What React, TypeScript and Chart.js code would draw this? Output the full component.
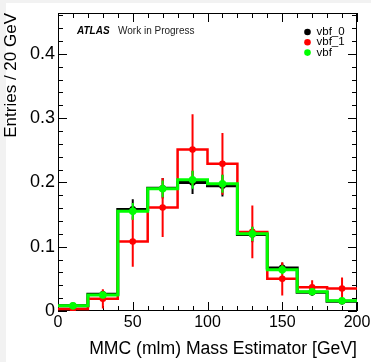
import React, { useEffect, useRef } from 'react';
import { Chart, registerables } from 'chart.js';

Chart.register(...registerables);

// ---- data ----
const binEdges = [0, 20, 40, 60, 80, 100, 120, 140, 160, 180, 200];
const binCenters = [10, 30, 50, 70, 90, 110, 130, 150, 170, 190];

const vbf0 = [0.008, 0.026, 0.158, 0.191, 0.200, 0.195, 0.119, 0.067, 0.029, 0.015];
const vbf0Err = [0.003, 0.006, 0.016, 0.016, 0.018, 0.017, 0.012, 0.008, 0.005, 0.004];

const vbf1 = [0.003, 0.019, 0.108, 0.161, 0.251, 0.229, 0.123, 0.050, 0.037, 0.035];
const vbf1Err = [0.003, 0.015, 0.039, 0.046, 0.055, 0.048, 0.041, 0.026, 0.011, 0.017];

const vbf = [0.008, 0.025, 0.155, 0.190, 0.204, 0.198, 0.120, 0.064, 0.030, 0.016];
const vbfErr = [0.002, 0.005, 0.013, 0.013, 0.014, 0.014, 0.011, 0.007, 0.004, 0.003];

const seriesNames = ['vbf_0', 'vbf_1', 'vbf'];
const seriesColors = ['#000000', '#ff0000', '#00ff00'];

const xTicks = [0, 50, 100, 150, 200];
const yTicks = [0, 0.1, 0.2, 0.3, 0.4];
const xMin = 0;
const xMax = 200;
const yMin = 0;
const yMax = 0.4635;
const xMinorStep = 10;
const yMinorStep = 0.02;

const xTitle = 'MMC (mlm) Mass Estimator [GeV]';
const yTitle = 'Entries / 20 GeV';
const atlasLabel = 'ATLAS';
const atlasSub = 'Work in Progress';

const FONT = "'Liberation Sans', Arial, Helvetica, sans-serif";

function histPoints(vals: number[]) {
  const pts = vals.map((v, i) => ({ x: binEdges[i], y: v }));
  pts.push({ x: binEdges[binEdges.length - 1], y: vals[vals.length - 1] });
  return pts;
}
function markerPoints(vals: number[]) {
  return vals.map((v, i) => ({ x: binCenters[i], y: v }));
}

const backgroundPlugin = {
  id: 'bgStrip',
  beforeDraw(chart: any) {
    const { ctx, width, height } = chart;
    ctx.save();
    ctx.fillStyle = '#f2f2f2';
    ctx.fillRect(0, 0, width, height);
    ctx.fillStyle = '#ffffff';
    ctx.fillRect(6, 3, width - 6, height - 3);
    ctx.restore();
  },
};

const frameTicksPlugin = {
  id: 'frameTicks',
  beforeDatasetsDraw(chart: any) {
    const { ctx, chartArea: a, scales } = chart;
    const x = scales.x;
    const y = scales.y;
    ctx.save();
    ctx.strokeStyle = '#000';
    ctx.lineWidth = 1;
    ctx.beginPath();
    const nx = Math.round((xMax - xMin) / xMinorStep);
    for (let i = 0; i <= nx; i++) {
      const v = xMin + i * xMinorStep;
      const major = xTicks.some((t) => Math.abs(t - v) < 1e-6);
      const len = major ? 9 : 5;
      const px = Math.round(x.getPixelForValue(v)) + 0.5;
      ctx.moveTo(px, a.bottom);
      ctx.lineTo(px, a.bottom - len);
      ctx.moveTo(px, a.top);
      ctx.lineTo(px, a.top + len);
    }
    const ny = Math.floor((yMax - yMin) / yMinorStep + 1e-6);
    for (let i = 0; i <= ny; i++) {
      const v = yMin + i * yMinorStep;
      const major = yTicks.some((t) => Math.abs(t - v) < 1e-6);
      const len = major ? 9 : 5;
      const py = Math.round(y.getPixelForValue(v)) + 0.5;
      ctx.moveTo(a.left, py);
      ctx.lineTo(a.left + len, py);
      ctx.moveTo(a.right, py);
      ctx.lineTo(a.right - len, py);
    }
    ctx.stroke();
    ctx.strokeRect(a.left + 0.5, a.top + 0.5, a.right - a.left - 1, a.bottom - a.top - 1);
    ctx.restore();
  },
};

const errorBarPlugin = {
  id: 'errorBars',
  beforeDatasetDraw(chart: any, args: any) {
    const ds = chart.data.datasets[args.index];
    if (!ds.errors) return;
    const { ctx, chartArea: a } = chart;
    const y = chart.scales.y;
    ctx.save();
    ctx.beginPath();
    ctx.rect(a.left, a.top, a.right - a.left, a.bottom - a.top);
    ctx.clip();
    ctx.strokeStyle = ds.borderColor;
    ctx.lineWidth = 2;
    ctx.beginPath();
    args.meta.data.forEach((pt: any, i: number) => {
      const v = ds.data[i].y;
      const e = ds.errors[i];
      ctx.moveTo(pt.x, y.getPixelForValue(v + e));
      ctx.lineTo(pt.x, y.getPixelForValue(v - e));
    });
    ctx.stroke();
    ctx.restore();
  },
};

const labelsPlugin = {
  id: 'atlasLegend',
  afterDraw(chart: any) {
    const { ctx, chartArea: a } = chart;
    ctx.save();
    ctx.textBaseline = 'middle';
    ctx.textAlign = 'left';
    // ATLAS label
    ctx.fillStyle = '#000';
    ctx.font = `italic bold 10px ${FONT}`;
    ctx.fillText(atlasLabel, a.left + 19, a.top + 18.7);
    ctx.fillStyle = '#222';
    ctx.font = `10px ${FONT}`;
    ctx.fillText(atlasSub, a.left + 60, a.top + 18.7);
    // legend
    ctx.font = `11.5px ${FONT}`;
    for (let i = 0; i < seriesNames.length; i++) {
      const cy = a.top + 19 + i * 10.3;
      ctx.fillStyle = seriesColors[i];
      ctx.beginPath();
      ctx.arc(a.right - 49.5, cy, 3.3, 0, Math.PI * 2);
      ctx.fill();
      ctx.fillStyle = '#000';
      ctx.fillText(seriesNames[i], a.right - 40.5, cy);
    }
    ctx.restore();
  },
};

export default function App() {
  const ref = useRef<HTMLCanvasElement | null>(null);

  useEffect(() => {
    if (!ref.current) return;
    Chart.defaults.font.family = FONT;
    const series = [
      { vals: vbf0, errs: vbf0Err, color: seriesColors[0], lw: 3, r: 3.3 },
      { vals: vbf1, errs: vbf1Err, color: seriesColors[1], lw: 2.5, r: 3.3 },
      { vals: vbf, errs: vbfErr, color: seriesColors[2], lw: 3, r: 3.8 },
    ];
    const datasets: any[] = [];
    series.forEach((s, k) => {
      const base = (series.length - k) * 2;
      datasets.push({
        label: seriesNames[k] + ' hist',
        data: histPoints(s.vals),
        borderColor: s.color,
        borderWidth: s.lw,
        stepped: 'before',
        pointRadius: 0,
        fill: false,
        borderJoinStyle: 'miter',
        borderCapStyle: 'butt',
        order: base,
      });
      datasets.push({
        label: seriesNames[k],
        data: markerPoints(s.vals),
        errors: s.errs,
        borderColor: s.color,
        showLine: false,
        pointRadius: s.r,
        pointBackgroundColor: s.color,
        pointBorderColor: s.color,
        pointBorderWidth: 0,
        pointStyle: 'circle',
        order: base - 1,
      });
    });

    const chart = new Chart(ref.current, {
      type: 'line',
      data: { datasets },
      options: {
        animation: false,
        responsive: false,
        devicePixelRatio: 1,
        events: [],
        layout: { padding: { top: 13, right: 14, left: 0, bottom: 0 } },
        plugins: { legend: { display: false }, tooltip: { enabled: false } },
        scales: {
          x: {
            type: 'linear',
            min: xMin,
            max: xMax,
            grid: { display: false, drawTicks: false },
            border: { display: false },
            afterBuildTicks: (s: any) => {
              s.ticks = xTicks.map((v) => ({ value: v }));
            },
            afterFit: (s: any) => {
              s.height = 51;
              s.paddingLeft = 0;
              s.paddingRight = 0;
              s.paddingTop = 0;
              s.paddingBottom = 0;
            },
            ticks: {
              color: '#000',
              padding: 2,
              font: { size: 16 },
              maxRotation: 0,
              autoSkip: false,
              callback: (v: any) => String(v),
            },
            title: {
              display: true,
              text: xTitle,
              align: 'end',
              color: '#000',
              font: { size: 17.6 },
              padding: { top: 0, bottom: 2 },
            },
          },
          y: {
            type: 'linear',
            min: yMin,
            max: yMax,
            grid: { display: false, drawTicks: false },
            border: { display: false },
            afterBuildTicks: (s: any) => {
              s.ticks = yTicks.map((v) => ({ value: v }));
            },
            afterFit: (s: any) => {
              s.width = 58;
              s.paddingLeft = 0;
              s.paddingRight = 0;
              s.paddingTop = 0;
              s.paddingBottom = 0;
            },
            ticks: {
              color: '#000',
              padding: 3,
              font: { size: 18 },
              autoSkip: false,
              callback: (v: any) => String(Math.round(v * 10) / 10),
            },
            title: {
              display: true,
              text: yTitle,
              align: 'end',
              color: '#000',
              font: { size: 17, lineHeight: 1.3 },
              padding: { top: 0, bottom: 0 },
            },
          },
        },
      } as any,
      plugins: [backgroundPlugin, frameTicksPlugin, errorBarPlugin, labelsPlugin],
    });
    return () => chart.destroy();
  }, []);

  return (
    <div style={{ position: 'fixed', left: 0, top: 0, width: 371, height: 362 }}>
      <canvas ref={ref} width={371} height={362} style={{ display: 'block', width: 371, height: 362 }} />
    </div>
  );
}
